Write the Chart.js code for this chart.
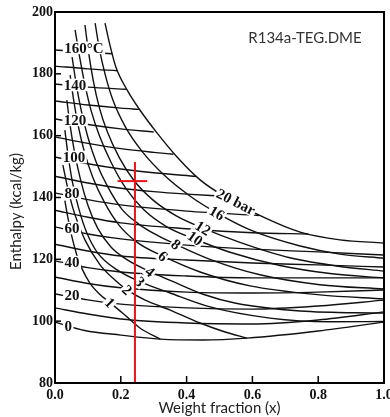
<!DOCTYPE html>
<html>
<head>
<meta charset="utf-8">
<script src="https://cdn.jsdelivr.net/npm/chart.js@4.4.1/dist/chart.umd.min.js"></script>
<style>
  html, body { margin: 0; padding: 0; background: #fff; }
  #wrap { width: 390px; height: 417px; }
</style>
</head>
<body>
<div id="wrap"><canvas id="chart" width="390" height="417"></canvas></div>
<script>
// axis ticks
const xTicks = [0, 0.2, 0.4, 0.6, 0.8, 1.0];
const yTicks = [80, 100, 120, 140, 160, 180, 200];

// isotherms, [weight fraction, enthalpy kcal/kg]
const t0   = [[0,99.7],[0.09,97.0],[0.2,95.5],[0.32,94.2],[0.45,93.9],[0.584,94.5],[0.8,96.8],[1,99.7]];
const t10  = [[0,104.3],[0.1,102.3],[0.2,100.7],[0.4,99.4],[0.6,99.1],[0.8,100.4],[1,103.0]];
const t20  = [[0,108.8],[0.1,106.9],[0.2,105.5],[0.4,104.3],[0.6,103.9],[0.8,104.9],[1,106.8]];
const t30  = [[0,114.3],[0.1,112.2],[0.2,110.8],[0.4,109.4],[0.6,109.1],[0.8,109.4],[1,110.1]];
const t40  = [[0,119.5],[0.1,117.3],[0.2,115.9],[0.4,114.6],[0.6,114.0],[0.8,114.0],[1,114.0]];
const t50  = [[0,124.9],[0.1,122.7],[0.2,121.1],[0.4,119.8],[0.6,118.8],[0.8,118.2],[1,117.5]];
const t60  = [[0,130.5],[0.1,128.2],[0.2,126.6],[0.4,124.6],[0.6,123.3],[0.8,122.4],[1,121.4]];
const t70  = [[0,135.9],[0.1,133.6],[0.2,131.8],[0.4,129.9],[0.6,128.6],[0.77,128.2]];
const t80  = [[0,141.5],[0.1,139.3],[0.2,137.6],[0.4,135.6],[0.62,134.2]];
const t90  = [[0,146.9],[0.1,144.7],[0.2,143.0],[0.3,141.9],[0.4,141.1],[0.51,140.4]];
const t100 = [[0,153.1],[0.1,150.9],[0.2,149.2],[0.3,148.0],[0.43,146.8]];
const t110 = [[0,159.6],[0.1,157.5],[0.2,155.8],[0.3,154.6],[0.36,154.0]];
const t120 = [[0,165.4],[0.1,163.6],[0.2,162.2],[0.30,161.2]];
const t130 = [[0,171.2],[0.1,169.9],[0.2,168.9],[0.255,168.5]];
const t140 = [[0,176.7],[0.1,175.7],[0.217,175.0]];
const t150 = [[0,182.5],[0.1,181.6],[0.19,181.0]];
const t160 = [[0,187.7],[0.1,187.0],[0.174,186.5]];

// isobars (bar)
const p20 = [[0.152,196.4],[0.167,189.3],[0.185,182.2],[0.219,174.8],[0.258,168.3],[0.310,160.9],[0.371,153.1],[0.441,145.7],[0.517,140.2],[0.632,133.7],[0.745,128.8],[0.866,126.3],[1,125.3]];
const p16 = [[0.122,196.4],[0.135,188],[0.152,180],[0.176,171.5],[0.213,163],[0.264,155],[0.334,147],[0.41,140.5],[0.492,135],[0.593,129.5],[0.745,124.3],[0.866,121.7],[1,120.4]];
const p12 = [[0.091,195.8],[0.102,187],[0.116,178],[0.135,169],[0.16,161],[0.195,153],[0.24,145.5],[0.30,139],[0.37,134],[0.45,130.1],[0.562,125.5],[0.714,120.5],[0.866,117.7],[1,116.2]];
const p10 = [[0.061,194.2],[0.074,186],[0.09,177],[0.11,168],[0.135,160],[0.17,151.5],[0.215,143],[0.27,136],[0.34,130.5],[0.426,126.5],[0.532,122.3],[0.684,118],[0.836,115.4],[1,114.0]];
const p8  = [[0.052,185.4],[0.064,177],[0.08,168],[0.10,159.5],[0.125,151.5],[0.16,143.5],[0.205,136],[0.26,131],[0.31,127.8],[0.368,124.8],[0.471,120],[0.623,115],[0.805,111.8],[1,110.4]];
const p6  = [[0.046,179.6],[0.056,172],[0.07,163.5],[0.09,154.5],[0.115,146.5],[0.15,138.5],[0.195,131],[0.25,125.5],[0.328,121],[0.441,115.9],[0.593,111.4],[0.805,108.5],[1,107.2]];
const p4  = [[0.036,171.5],[0.045,164],[0.058,155.5],[0.077,146],[0.10,137.5],[0.13,130],[0.17,124],[0.22,119.8],[0.289,116],[0.35,113.2],[0.45,108.7],[0.55,105.8],[0.745,103.3],[1,102.6]];
const p3  = [[0.030,161.8],[0.040,153.5],[0.053,145],[0.072,136.5],[0.097,128.5],[0.13,122],[0.19,116.5],[0.258,112.8],[0.35,109.1],[0.471,104.6],[0.653,101],[0.836,99.8],[1,99.9]];
const p2  = [[0.024,150.5],[0.040,142.4],[0.061,134.3],[0.091,126.3],[0.137,118.2],[0.182,113.3],[0.219,110.1],[0.274,106.8],[0.350,103.6],[0.441,99.4],[0.517,96.5],[0.584,94.5]];
const p1  = [[0.03,139],[0.04,133],[0.052,127],[0.066,121.5],[0.082,117],[0.105,112.5],[0.135,108.8],[0.173,105.5],[0.213,101.9],[0.258,97.8],[0.32,94.2]];

// red marker
const redV = [[0.243,151.5],[0.243,80]];
const redH = [[0.19,145.3],[0.28,145.3]];

// curve labels
const isothermText = ['160°C','140','120','100','80','60','40','20','0'];
const isothermAt = [[0.088,188.4],[0.061,176.4],[0.061,165.1],[0.058,153.1],[0.052,141.5],[0.052,130.1],[0.052,119.1],[0.052,108.5],[0.040,98.4]];
const isobarText = ['20 bar','16','12','10','8','6','4','3','2','1'];
const isobarAt = [[0.55,138.6],[0.492,135.0],[0.45,130.1],[0.426,126.8],[0.368,124.8],[0.328,121.0],[0.289,116.0],[0.258,112.8],[0.219,110.1],[0.167,106.0]];
const isobarTilt = [27, 30, 32, 35, 38, 40, 40, 45, 45, 45];

const blackCurves = [t0,t10,t20,t30,t40,t50,t60,t70,t80,t90,t100,t110,t120,t130,t140,t150,t160,
                     p20,p16,p12,p10,p8,p6,p4,p3,p2,p1];

const pts = arr => arr.map(([x, y]) => ({x, y}));
const datasets = [
  {data: pts(redV), borderColor: '#e8141b', borderWidth: 2, tension: 0},
  {data: pts(redH), borderColor: '#e8141b', borderWidth: 2, tension: 0}
].concat(blackCurves.map(c => ({
  data: pts(c), borderColor: '#111', borderWidth: 1.4, cubicInterpolationMode: 'monotone'
})));
datasets.forEach(d => { d.showLine = true; d.pointRadius = 0; d.fill = false; });

const serif = '"Liberation Serif", "DejaVu Serif", serif';

// draws frame, inward ticks, curve labels (before the red lines), titles
const decor = {
  id: 'decor',
  afterDatasetDraw(chart, args) {
    if (args.index !== 2) return;
    const {ctx, scales: {x, y}} = chart;
    ctx.save();
    ctx.textAlign = 'center';
    ctx.textBaseline = 'middle';
    const put = (text, pos, deg, size) => {
      const px = x.getPixelForValue(pos[0]), py = y.getPixelForValue(pos[1]);
      ctx.save();
      ctx.translate(px, py);
      ctx.rotate(deg * Math.PI / 180);
      ctx.font = 'bold ' + size + 'px ' + serif;
      const w = ctx.measureText(text).width;
      ctx.fillStyle = '#fff';
      ctx.fillRect(-w / 2 - 1.5, -size * 0.42, w + 3, size * 0.84);
      ctx.fillStyle = '#111';
      ctx.fillText(text, 0, 1);
      ctx.restore();
    };
    isothermText.forEach((t, i) => put(t, isothermAt[i], 0, 15));
    isobarText.forEach((t, i) => put(t, isobarAt[i], isobarTilt[i], 15));
    ctx.restore();
  },
  afterDraw(chart) {
    const {ctx, chartArea: a, scales: {x, y}} = chart;
    ctx.save();
    ctx.strokeStyle = '#000';
    ctx.lineWidth = 2;
    ctx.strokeRect(a.left, a.top, a.right - a.left, a.bottom - a.top);
    ctx.lineWidth = 1.5;
    xTicks.slice(1, -1).forEach(v => {
      const p = x.getPixelForValue(v);
      ctx.beginPath(); ctx.moveTo(p, a.bottom); ctx.lineTo(p, a.bottom - 7); ctx.stroke();
    });
    yTicks.slice(1, -1).forEach(v => {
      const p = y.getPixelForValue(v);
      ctx.beginPath(); ctx.moveTo(a.left, p); ctx.lineTo(a.left + 6, p); ctx.stroke();
    });
    ctx.fillStyle = '#333';
    ctx.font = '15px Lato, "Open Sans", sans-serif';
    ctx.textAlign = 'center';
    ctx.textBaseline = 'middle';
    ctx.fillText('R134a-TEG.DME', a.right - 79, a.top + 26);
    ctx.fillStyle = '#222';
    ctx.translate(16, (a.top + a.bottom) / 2 + 14);
    ctx.rotate(-Math.PI / 2);
    ctx.fillText('Enthalpy (kcal/kg)', 0, 0);
    ctx.restore();
  }
};

new Chart(document.getElementById('chart'), {
  type: 'scatter',
  data: {datasets},
  options: {
    responsive: false,
    animation: false,
    devicePixelRatio: 1,
    layout: {padding: {top: 12, right: 6, left: 0, bottom: 0}},
    plugins: {legend: {display: false}, tooltip: {enabled: false}},
    scales: {
      x: {
        type: 'linear', min: 0, max: 1,
        grid: {display: false, drawTicks: false},
        border: {display: false},
        afterBuildTicks: s => { s.ticks = xTicks.map(v => ({value: v})); },
        ticks: {padding: 4, color: '#111', font: {family: serif, size: 14, weight: 'bold'},
                callback: v => v.toFixed(1)},
        title: {display: true, text: 'Weight fraction (x)', color: '#222',
                font: {family: 'Lato, "Open Sans", sans-serif', size: 15}, padding: {top: 0, bottom: 0}},
        afterFit: s => { s.height = 34; s.paddingLeft = 0; s.paddingRight = 0; }
      },
      y: {
        type: 'linear', min: 80, max: 200,
        grid: {display: false, drawTicks: false},
        border: {display: false},
        afterBuildTicks: s => { s.ticks = yTicks.map(v => ({value: v})); },
        ticks: {padding: 2, color: '#111', font: {family: serif, size: 14, weight: 'bold'}},
        afterFit: s => { s.width = 55; s.paddingTop = 0; s.paddingBottom = 0; }
      }
    }
  },
  plugins: [decor]
});
</script>
</body>
</html>
